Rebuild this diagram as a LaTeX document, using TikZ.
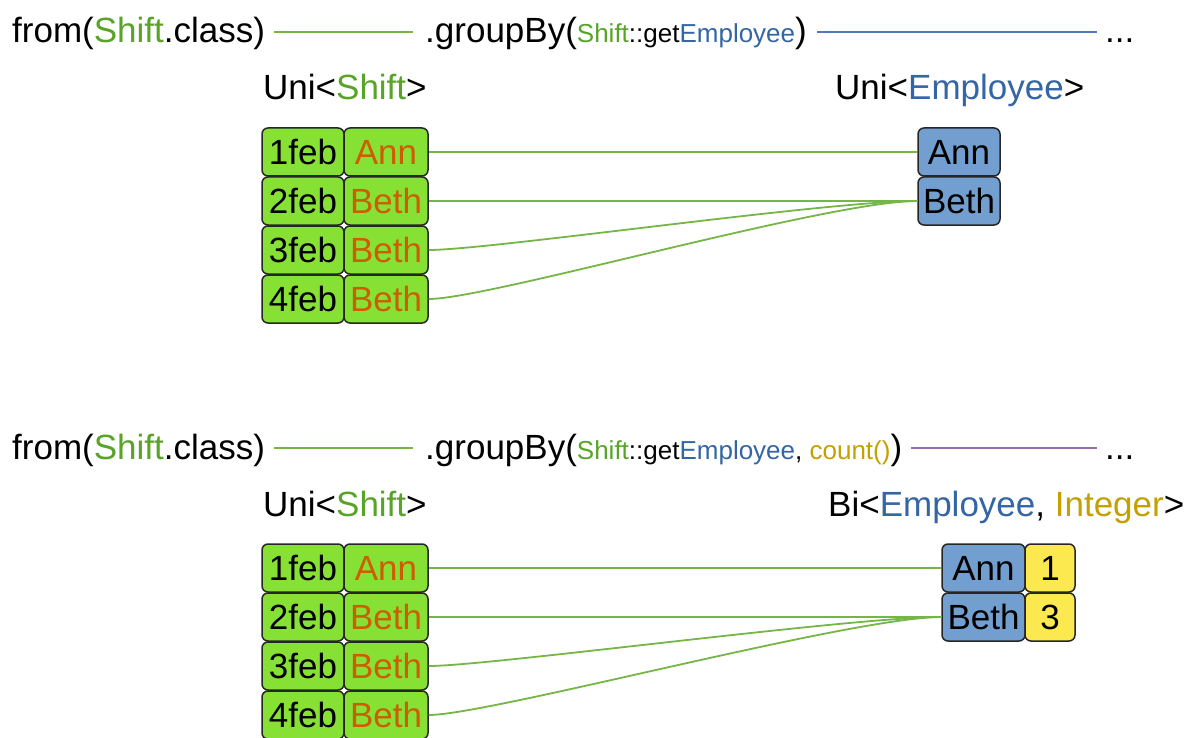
\documentclass[tikz,border=0pt]{standalone}
\usepackage{fontspec}
\setmainfont{Liberation Sans}
\definecolor{sgreen}{RGB}{88,164,40}
\definecolor{sblue}{RGB}{52,101,164}
\definecolor{sorange}{RGB}{206,92,0}
\definecolor{syellow}{RGB}{196,160,0}
\definecolor{boxgreen}{RGB}{135,225,52}
\definecolor{boxblue}{RGB}{114,159,207}
\definecolor{boxyellow}{RGB}{252,233,79}
\definecolor{lgreen}{RGB}{118,182,70}
\definecolor{lblue}{RGB}{80,121,181}
\definecolor{lpurple}{RGB}{156,108,172}
\newcommand{\smallf}{\fontsize{26}{30}\selectfont}
\tikzset{
  lbl/.style={font=\fontsize{35}{42}\selectfont, inner sep=0pt, anchor=base west},
  cell/.style={draw=black!85, line width=1.5pt, rounded corners=6pt, inner sep=0pt,
    minimum height=48pt, text height=25pt, text depth=0pt, font=\fontsize{35}{42}\selectfont},
  datecell/.style={cell, fill=boxgreen, minimum width=82pt},
  namecell/.style={cell, fill=boxgreen, minimum width=84pt, text=sorange},
  empcell/.style={cell, fill=boxblue, minimum width=82pt},
  empcellb/.style={cell, fill=boxblue, minimum width=83pt},
  numcell/.style={cell, fill=boxyellow, minimum width=50pt},
  link/.style={line width=1.8pt, draw=lgreen},
  hline/.style={line width=1.6pt},
}
\begin{document}
\begin{tikzpicture}[x=1pt,y=-1pt]
\useasboundingbox (0,0) rectangle (1190,738);
\clip (0,0) rectangle (1190,738);

% ---------- top part ----------
\node[lbl] (fromA) at (12,43) {from(\textcolor{sgreen}{Shift}.class)};
\node[lbl] (groupA) at (425,43) {.groupBy({\smallf\textcolor{sgreen}{Shift}::get\textcolor{sblue}{Employee}})};
\node[lbl] (dotsA) at (1105,43) {...};
\draw[hline, draw=lgreen] ([xshift=9pt,yshift=11pt]fromA.base east) -- ([xshift=-12pt,yshift=11pt]groupA.base west);
\draw[hline, draw=lblue] ([xshift=10pt,yshift=11pt]groupA.base east) -- ([xshift=-8pt,yshift=11pt]dotsA.base west);

\node[lbl] (uniA) at (263,100) {Uni<\textcolor{sgreen}{Shift}>};
\node[lbl] (uniE) at (835,100) {Uni<\textcolor{sblue}{Employee}>};

\node[datecell] (d1) at (303,152) {1feb};
\node[namecell] (n1) at (386,152) {Ann};
\node[datecell] (d2) at (303,201) {2feb};
\node[namecell] (n2) at (386,201) {Beth};
\node[datecell] (d3) at (303,250) {3feb};
\node[namecell] (n3) at (386,250) {Beth};
\node[datecell] (d4) at (303,299) {4feb};
\node[namecell] (n4) at (386,299) {Beth};

\node[empcell] (ea) at (959,152) {Ann};
\node[empcell] (eb) at (959,201) {Beth};

\draw[link] (n1.east) -- (ea.west);
\draw[link] (n2.east) -- (eb.west);
\draw[link] (n3.east) .. controls +(60,0) and +(-90,0) .. (eb.west);
\draw[link] (n4.east) .. controls +(60,0) and +(-90,0) .. (eb.west);

% ---------- bottom part ----------
\node[lbl] (fromB) at (12,459) {from(\textcolor{sgreen}{Shift}.class)};
\node[lbl] (groupB) at (425,459) {.groupBy({\smallf\textcolor{sgreen}{Shift}::get\textcolor{sblue}{Employee}, \textcolor{syellow}{count()}})};
\node[lbl] (dotsB) at (1105,459) {...};
\draw[hline, draw=lgreen] ([xshift=9pt,yshift=11pt]fromB.base east) -- ([xshift=-12pt,yshift=11pt]groupB.base west);
\draw[hline, draw=lpurple] ([xshift=9pt,yshift=11pt]groupB.base east) -- ([xshift=-8pt,yshift=11pt]dotsB.base west);

\node[lbl] (uniB) at (263,516) {Uni<\textcolor{sgreen}{Shift}>};
\node[lbl] (biB) at (828,516) {Bi<\textcolor{sblue}{Employee}, \textcolor{syellow}{Integer}>};

\node[datecell] (e1) at (303,568) {1feb};
\node[namecell] (m1) at (386,568) {Ann};
\node[datecell] (e2) at (303,617) {2feb};
\node[namecell] (m2) at (386,617) {Beth};
\node[datecell] (e3) at (303,666) {3feb};
\node[namecell] (m3) at (386,666) {Beth};
\node[datecell] (e4) at (303,715) {4feb};
\node[namecell] (m4) at (386,715) {Beth};

\node[empcellb] (ba) at (983.5,568) {Ann};
\node[numcell] (b1) at (1050,568) {1};
\node[empcellb] (bb) at (983.5,617) {Beth};
\node[numcell] (b3) at (1050,617) {3};

\draw[link] (m1.east) -- (ba.west);
\draw[link] (m2.east) -- (bb.west);
\draw[link] (m3.east) .. controls +(60,0) and +(-90,0) .. (bb.west);
\draw[link] (m4.east) .. controls +(60,0) and +(-90,0) .. (bb.west);
\end{tikzpicture}
\end{document}
